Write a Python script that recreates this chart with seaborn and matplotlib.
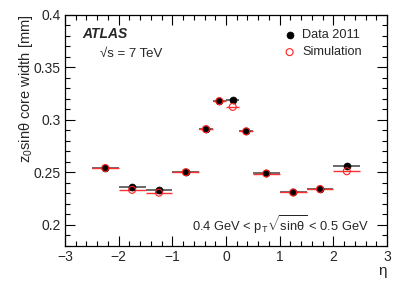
import matplotlib
matplotlib.use("Agg")
import matplotlib.pyplot as plt
from matplotlib.ticker import MultipleLocator
import numpy as np
import pandas as pd
import seaborn as sns

# eta bins and core widths
eta_lo = [-2.5, -2.0, -1.5, -1.0, -0.5, -0.25, 0.0, 0.25, 0.5, 1.0, 1.5, 2.0]
eta_hi = [-2.0, -1.5, -1.0, -0.5, -0.25, 0.0, 0.25, 0.5, 1.0, 1.5, 2.0, 2.5]
data_2011 = [0.2541, 0.2357, 0.2330, 0.2502, 0.2912, 0.3178, 0.3184, 0.2891, 0.2489, 0.2316, 0.2342, 0.2556]
simulation = [0.2540, 0.2332, 0.2305, 0.2500, 0.2910, 0.3177, 0.3122, 0.2889, 0.2487, 0.2307, 0.2340, 0.2509]

sns.set_style("ticks")
plt.rcParams["font.family"] = ["Liberation Sans", "DejaVu Sans"]
plt.rcParams["mathtext.fontset"] = "custom"
plt.rcParams["mathtext.rm"] = "Liberation Sans"
plt.rcParams["mathtext.it"] = "Liberation Sans"
plt.rcParams["mathtext.bf"] = "Liberation Sans:bold"

df = pd.DataFrame({"lo": eta_lo, "hi": eta_hi, "data": data_2011, "sim": simulation})
df["eta"] = (df["lo"] + df["hi"]) / 2
df["xerr"] = (df["hi"] - df["lo"]) / 2

fig = plt.figure(figsize=(4.07, 2.93), dpi=100)
ax = fig.add_axes([0.1597, 0.1614, 0.7913, 0.7886])

ax.errorbar(df["eta"], df["data"], xerr=df["xerr"], fmt="none",
            ecolor="#505050", elinewidth=1.2, capsize=0, zorder=2)
ax.errorbar(df["eta"], df["sim"], xerr=df["xerr"], fmt="none",
            ecolor="#ff3030", elinewidth=1.0, capsize=0, zorder=3)
sns.scatterplot(data=df, x="eta", y="data", ax=ax, color="black", s=25,
                edgecolor="black", linewidth=0.5, zorder=4, label="Data 2011")
sns.scatterplot(data=df, x="eta", y="sim", ax=ax, facecolor="none", s=25,
                edgecolor="#ff2020", linewidth=0.8, zorder=5, label="Simulation")

ax.set_xlim(-3, 3)
ax.set_ylim(0.18, 0.4)
ax.xaxis.set_major_locator(MultipleLocator(1))
ax.xaxis.set_minor_locator(MultipleLocator(0.2))
ax.yaxis.set_major_locator(MultipleLocator(0.05))
ax.yaxis.set_minor_locator(MultipleLocator(0.01))
ax.yaxis.set_major_formatter(plt.FuncFormatter(lambda v, p: f"{v:g}"))
ax.xaxis.set_major_formatter(plt.FuncFormatter(lambda v, p: f"{v:g}".replace("-", "\u2212")))
ax.tick_params(which="both", direction="in", top=True, right=True, labelsize=10,
               color="black", width=0.8)
ax.tick_params(which="major", length=7, pad=3)
ax.tick_params(which="minor", length=3.5)
for s in ax.spines.values():
    s.set_linewidth(0.9)
    s.set_color("black")

ax.set_xlabel("η", fontsize=11, loc="right", labelpad=0)
ax.set_ylabel(r"z$_0$sinθ core width [mm]", fontsize=10.5, loc="top", labelpad=-1)

ax.text(0.054, 0.915, "ATLAS", transform=ax.transAxes, fontsize=10,
        fontweight="bold", style="italic", va="center")
ax.text(0.108, 0.83, "√s = 7 TeV", transform=ax.transAxes, fontsize=9.5, va="center")
ax.text(0.945, 0.09, r"0.4 GeV < p$_{\rm T}\sqrt{\rm sin\theta}$ < 0.5 GeV",
        transform=ax.transAxes, fontsize=9.3, ha="right", va="center")

ax.legend(loc="upper right", bbox_to_anchor=(0.95, 0.975), frameon=False,
          fontsize=9.2, handletextpad=0.0, labelspacing=0.4, borderpad=0.2)

fig.savefig("out.png", dpi=100)
